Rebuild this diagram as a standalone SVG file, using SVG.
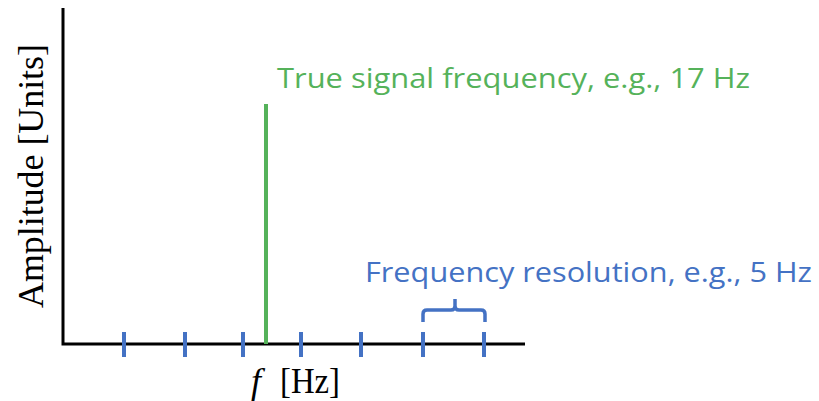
<svg xmlns="http://www.w3.org/2000/svg" width="819" height="401" viewBox="0 0 819 401">
<style>
.ax{stroke:#000;stroke-width:3;fill:none}
.tick{stroke:#4472C4;stroke-width:4;fill:none}
.serif{font-family:"Liberation Serif","Times New Roman",serif;font-size:36px;fill:#000}
.sans{font-family:"Open Sans","Noto Sans",sans-serif;font-size:27.5px;font-weight:500}
</style>
<rect width="819" height="401" fill="#fff"/>
<g id="axes">
<path class="ax" d="M63,8 V344 H525"/>
</g>
<g id="ticks">
<path class="tick" d="M124,332V357M185,332V357M243,332V357M301,332V357M361,332V357M423,332V357M484,332V357"/>
</g>
<g id="signal">
<line x1="266" y1="104" x2="266" y2="344" stroke="#55B25A" stroke-width="4"/>
<text class="sans" x="277" y="88" fill="#55B25A" textLength="473" lengthAdjust="spacingAndGlyphs">True signal frequency, e.g., 17 Hz</text>
</g>
<g id="resolution">
<path d="M423,322 V314 Q423,310 427,310 H451 Q455,310 455,306 V299 M455,306 Q455,310 459,310 H481 Q485,310 485,314 V322" fill="none" stroke="#4472C4" stroke-width="3.5"/>
<text class="sans" x="365" y="282" fill="#4472C4" textLength="447" lengthAdjust="spacingAndGlyphs">Frequency resolution, e.g., 5 Hz</text>
</g>
<g id="labels">
<text class="serif" transform="translate(43,308) rotate(-90)" textLength="264" lengthAdjust="spacingAndGlyphs">Amplitude [Units]</text>
<text class="serif" x="251" y="393"><tspan font-style="italic">f</tspan><tspan x="280" textLength="60" lengthAdjust="spacingAndGlyphs">[Hz]</tspan></text>
</g>
</svg>
